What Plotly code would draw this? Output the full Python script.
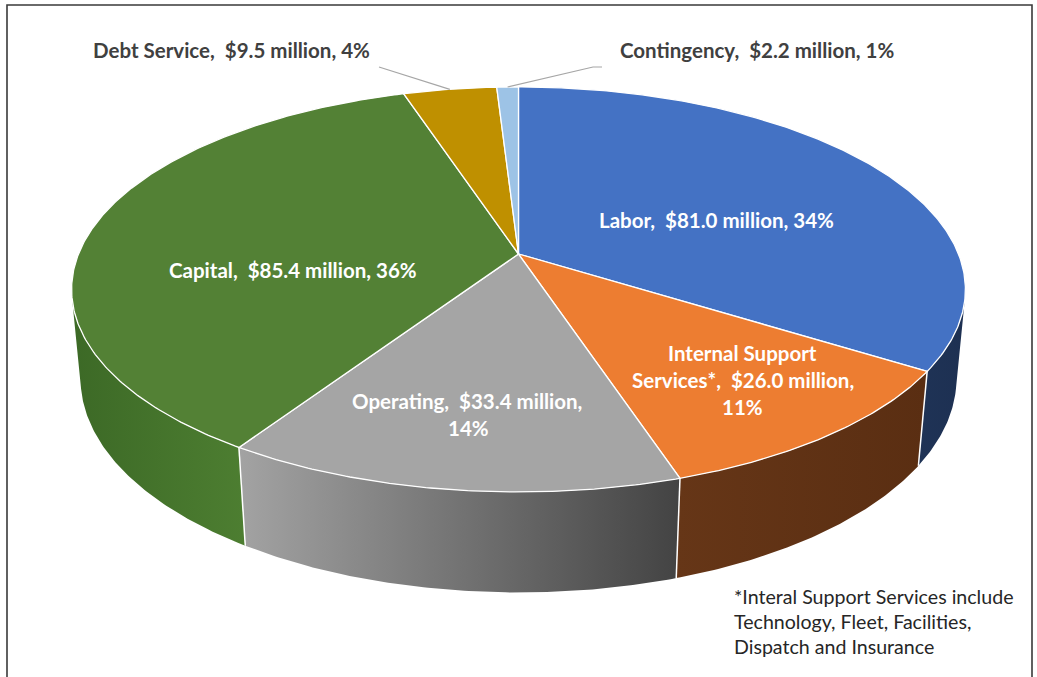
import numpy as np
import plotly.graph_objects as go

# Budget split (millions of dollars)
categories = ["Labor", "Internal Support Services*", "Operating", "Capital",
              "Debt Service", "Contingency"]
values = [81.0, 26.0, 33.4, 85.4, 9.5, 2.2]
pct_labels = ["34%", "11%", "14%", "36%", "4%", "1%"]

top_colors = ["#4472C4", "#ED7D31", "#A5A5A5", "#538135", "#BF9000", "#9DC3E6"]
side_colors = [("#1f3356", "#1d3052"), ("#663617", "#5a2e12"),
               ("#a3a3a3", "#434343"), ("#3c6926", "#4d7e31"),
               ("#8f6c00", "#8f6c00"), ("#7a9bb8", "#7a9bb8")]

W, H = 1037, 677

# --- perspective projection of a tilted disc (radius 1) ---
CX, CY = 518.5, 254.0          # pixel position of the disc centre
SCALE = 440.0                  # pixel radius at the centre depth
TILT = np.radians(26.5)        # viewing elevation
DIST = np.cos(TILT) / 0.175    # camera distance (disc radii)
FOCAL = SCALE * DIST
THICK = 0.2276                 # disc thickness (disc radii)


def project(theta_deg, r=1.0, z=0.0):
    t = np.radians(np.asarray(theta_deg, dtype=float))
    X = r * np.sin(t)
    Y = r * np.cos(t)
    depth = DIST + Y * np.cos(TILT) - z * np.sin(TILT)
    px = CX + FOCAL * X / depth
    py = CY - FOCAL * (Y * np.sin(TILT) + z * np.cos(TILT)) / depth
    return px, py


total = sum(values)
bounds = np.concatenate([[0.0], np.cumsum(values) / total * 360.0])

# silhouette of the cylinder wall seen from the camera
sil = np.degrees(np.arccos(-1.0 / (DIST * np.cos(TILT))))
front_lo, front_hi = sil, 360.0 - sil

fig = go.Figure()

# outer walls (front half only)
for i in range(len(values)):
    a, b = max(bounds[i], front_lo), min(bounds[i + 1], front_hi)
    if b <= a:
        continue
    th = np.linspace(a, b, max(int((b - a) * 2), 4))
    tx, ty = project(th)
    bx, by = project(th[::-1], z=-THICK)
    xs = np.concatenate([tx, bx, tx[:1]])
    ys = np.concatenate([ty, by, ty[:1]])
    c1, c2 = side_colors[i]
    fig.add_trace(go.Scatter(
        x=xs, y=ys, mode="lines", fill="toself", line=dict(width=0),
        fillgradient=dict(type="horizontal", colorscale=[[0, c1], [1, c2]]),
        hoverinfo="skip", showlegend=False))

# white seams on the wall where slices meet
for edge in bounds[1:-1]:
    if front_lo < edge < front_hi:
        x0, y0 = project(edge)
        x1, y1 = project(edge, z=-THICK)
        fig.add_trace(go.Scatter(x=[x0, x1], y=[y0, y1], mode="lines",
                                 line=dict(color="white", width=1.5),
                                 hoverinfo="skip", showlegend=False))

# top faces
for i in range(len(values)):
    a, b = bounds[i], bounds[i + 1]
    th = np.linspace(a, b, max(int((b - a) * 2), 4))
    ax, ay = project(th)
    xs = np.concatenate([[CX], ax, [CX]])
    ys = np.concatenate([[CY], ay, [CY]])
    fig.add_trace(go.Scatter(
        x=xs, y=ys, mode="lines", fill="toself", fillcolor=top_colors[i],
        line=dict(color="white", width=1.3),
        name=categories[i], hoverinfo="name", showlegend=False))

# leader lines for the two small outer slices
mid_debt = (bounds[4] + bounds[5]) / 2
mid_cont = (bounds[5] + bounds[6]) / 2
dx, dy = project(mid_debt)
kx, ky = project(mid_cont)
fig.add_trace(go.Scatter(x=[379, dx], y=[67, dy], mode="lines",
                         line=dict(color="#a6a6a6", width=1.2),
                         hoverinfo="skip", showlegend=False))
fig.add_trace(go.Scatter(x=[602, 593, kx], y=[67, 67, ky], mode="lines",
                         line=dict(color="#a6a6a6", width=1.2),
                         hoverinfo="skip", showlegend=False))

FONT = "Lato"


def money(v):
    return f"${v:.1f} million"


inner = dict(family=FONT, size=20.5, color="white", weight="bold")
outer = dict(family=FONT, size=20.5, color="#404040", weight="bold")

notes = [
    (716, 220, f"{categories[0]},  {money(values[0])}, {pct_labels[0]}", inner),
    (742, 353, "Internal Support", inner),
    (743, 380, f"Services*,  {money(values[1])},", inner),
    (742, 407, pct_labels[1], inner),
    (467, 401, f"{categories[2]},  {money(values[2])},", inner),
    (468, 428, pct_labels[2], inner),
    (293, 270, f"{categories[3]},  {money(values[3])}, {pct_labels[3]}", inner),
    (231, 50, f"{categories[4]},  {money(values[4])}, {pct_labels[4]}", outer),
    (757, 50, f"{categories[5]},  {money(values[5])}, {pct_labels[5]}", outer),
]
annotations = [dict(x=x, y=y, text=t, showarrow=False, font=f,
                    xanchor="center", yanchor="middle")
               for x, y, t, f in notes]

foot = ["*Interal Support Services include",
        "Technology, Fleet, Facilities,",
        "Dispatch and Insurance"]
for j, line in enumerate(foot):
    annotations.append(dict(x=732, y=596 + 25 * j, text=line, showarrow=False,
                            xanchor="left", yanchor="middle",
                            font=dict(family=FONT, size=19.6, color="#262626")))

fig.update_layout(
    width=W, height=H, margin=dict(l=0, r=0, t=0, b=0),
    paper_bgcolor="white", plot_bgcolor="white",
    xaxis=dict(range=[0, W], visible=False, fixedrange=True),
    yaxis=dict(range=[H, 0], visible=False, fixedrange=True),
    annotations=annotations,
    shapes=[dict(type="rect", x0=7, y0=5, x1=1032, y1=H + 10,
                 line=dict(color="#3a3a3a", width=1.6))],
    showlegend=False,
)

fig.write_html("out.html")
